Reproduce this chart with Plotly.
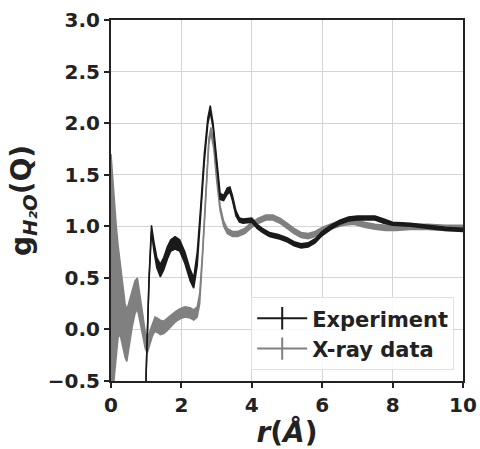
import plotly.graph_objects as go

# Experiment band (r in Å, lower/upper edges)
r_exp = [0.99, 1.0, 1.08, 1.15, 1.22, 1.3, 1.4, 1.5, 1.6, 1.7, 1.82, 1.95, 2.1, 2.25, 2.35, 2.45,
         2.55, 2.65, 2.75, 2.82, 2.9, 3.0, 3.1, 3.2, 3.3, 3.38, 3.45, 3.55, 3.65, 3.75, 3.9, 4.0,
         4.15, 4.3, 4.5, 4.75, 5.0, 5.2, 5.4, 5.6, 5.8, 6.0, 6.25, 6.5, 6.75, 7.0, 7.25, 7.5,
         7.75, 8.0, 8.5, 9.0, 9.5, 10.0]
exp_up = [-0.6, -0.4, 0.5, 1.01, 0.85, 0.7, 0.63, 0.7, 0.8, 0.87, 0.90, 0.87, 0.75, 0.58, 0.50, 0.75,
          1.2, 1.7, 2.05, 2.17, 2.0, 1.65, 1.32, 1.30, 1.37, 1.38, 1.3, 1.15, 1.08, 1.07, 1.08, 1.08,
          1.02, 0.98, 0.94, 0.92, 0.89, 0.85, 0.83, 0.84, 0.88, 0.95, 1.01, 1.06, 1.09, 1.10, 1.10, 1.10,
          1.07, 1.04, 1.03, 1.01, 0.99, 0.98]
exp_lo = [-0.62, -0.42, 0.46, 0.95, 0.76, 0.6, 0.51, 0.58, 0.68, 0.76, 0.78, 0.76, 0.64, 0.47, 0.40, 0.62,
          1.12, 1.62, 1.99, 2.11, 1.95, 1.60, 1.26, 1.25, 1.31, 1.33, 1.25, 1.10, 1.04, 1.03, 1.04, 1.04,
          0.98, 0.94, 0.90, 0.88, 0.85, 0.81, 0.79, 0.80, 0.84, 0.91, 0.97, 1.02, 1.05, 1.06, 1.06, 1.06,
          1.03, 1.01, 1.00, 0.98, 0.96, 0.95]

# X-ray data band
r_xr = [0, 0.05, 0.1, 0.15, 0.2, 0.26, 0.33, 0.4, 0.45, 0.52, 0.6, 0.68, 0.75, 0.82, 0.9, 0.97,
        1.03, 1.1, 1.18, 1.25, 1.32, 1.4, 1.5, 1.6, 1.7, 1.82, 1.95, 2.1, 2.25, 2.35, 2.45, 2.52,
        2.6, 2.7, 2.78, 2.84, 2.92, 3.0, 3.1, 3.2, 3.3, 3.45, 3.6, 3.8, 4.0, 4.2, 4.4, 4.6, 4.8,
        5.0, 5.2, 5.4, 5.6, 5.8, 6.0, 6.3, 6.6, 6.9, 7.2, 7.5, 7.8, 8.1, 8.5, 9.0, 9.5, 10.0]
xr_up = [1.70, 1.45, 1.2, 1.0, 0.82, 0.64, 0.45, 0.25, 0.19, 0.28, 0.38, 0.47, 0.50, 0.35, 0.15, -0.02,
         -0.1, -0.02, 0.06, 0.12, 0.11, 0.09, 0.08, 0.11, 0.14, 0.17, 0.20, 0.22, 0.21, 0.19, 0.22, 0.35,
         0.75, 1.4, 1.85, 1.96, 1.8, 1.5, 1.2, 1.05, 0.98, 0.95, 0.95, 0.98, 1.04, 1.08, 1.11, 1.11, 1.08,
         1.03, 0.98, 0.94, 0.93, 0.95, 0.99, 1.03, 1.06, 1.07, 1.04, 1.02, 1.01, 1.01, 1.02, 1.02, 1.01, 1.01]
xr_lo = [-0.8, -0.6, -0.4, -0.2, -0.08, -0.05, -0.15, -0.27, -0.31, -0.15, 0.02, 0.15, 0.20, 0.08, -0.08, -0.18,
         -0.23, -0.15, -0.06, -0.02, -0.03, -0.05, -0.04, -0.01, 0.03, 0.07, 0.10, 0.12, 0.11, 0.09, 0.12, 0.25,
         0.70, 1.35, 1.80, 1.90, 1.75, 1.45, 1.15, 1.00, 0.93, 0.90, 0.90, 0.93, 0.99, 1.03, 1.06, 1.06, 1.03,
         0.98, 0.93, 0.89, 0.88, 0.90, 0.94, 0.98, 1.01, 1.02, 0.99, 0.97, 0.96, 0.96, 0.97, 0.97, 0.96, 0.96]

x_ticks = [0, 2, 4, 6, 8, 10]
y_ticks = [-0.5, 0, 0.5, 1.0, 1.5, 2.0, 2.5, 3.0]
y_ticklabels = ["\u22120.5", "0.0", "0.5", "1.0", "1.5", "2.0", "2.5", "3.0"]

series = [
    ("Experiment", r_exp, exp_lo, exp_up, "#1a1a1a"),
    ("X-ray data", r_xr, xr_lo, xr_up, "#808080"),
]

FONT = "DejaVu Sans"
fig = go.Figure()

# draw X-ray first then experiment on top
for name, r, lo, up, col in reversed(series):
    fig.add_trace(go.Scatter(x=r, y=lo, mode="lines", line=dict(color=col, width=1.5),
                             showlegend=False, hoverinfo="skip"))
    fig.add_trace(go.Scatter(x=r, y=up, mode="lines", line=dict(color=col, width=1.5),
                             fill="tonexty", fillcolor=col, showlegend=False, name=name))

for name, r, lo, up, col in series:
    fig.add_trace(go.Scatter(x=[None], y=[None], mode="lines+markers", name=name,
                             line=dict(color=col, width=2),
                             marker=dict(symbol="line-ns-open", size=22,
                                         line=dict(color=col, width=2))))

axis_common = dict(
    showgrid=True, gridcolor="#d4d4d4", gridwidth=1,
    showline=True, linecolor="#222", linewidth=2, mirror=True,
    ticks="outside", ticklen=5, tickwidth=1.5, tickcolor="#222",
    tickfont=dict(family=FONT, size=20, color="#222", weight="bold"),
    zeroline=False, automargin=False,
)

fig.update_layout(
    width=480, height=449,
    margin=dict(l=111, r=17, t=20, b=68),
    paper_bgcolor="white", plot_bgcolor="white",
    font=dict(family=FONT, color="#222"),
    xaxis=dict(range=[0, 10], tickvals=x_ticks,
               title=dict(text="<i>r</i>(<i>Å</i>)", standoff=4,
                          font=dict(family=FONT, size=28, color="#222", weight="bold")),
               **axis_common),
    yaxis=dict(range=[-0.5, 3.0], tickvals=y_ticks, ticktext=y_ticklabels,
               title=dict(text="g<sub><i>H\u2082O</i></sub>(Q)", standoff=8,
                          font=dict(family=FONT, size=28, color="#222", weight="bold")),
               **axis_common),
    legend=dict(x=0.975, y=0.03, xanchor="right", yanchor="bottom",
                traceorder="normal",
                bgcolor="rgba(255,255,255,0.85)", bordercolor="#e0e0e0", borderwidth=1,
                font=dict(family=FONT, size=21, color="#222", weight="bold"),
                itemwidth=50, tracegroupgap=0),
)

fig.write_html("out.html")
